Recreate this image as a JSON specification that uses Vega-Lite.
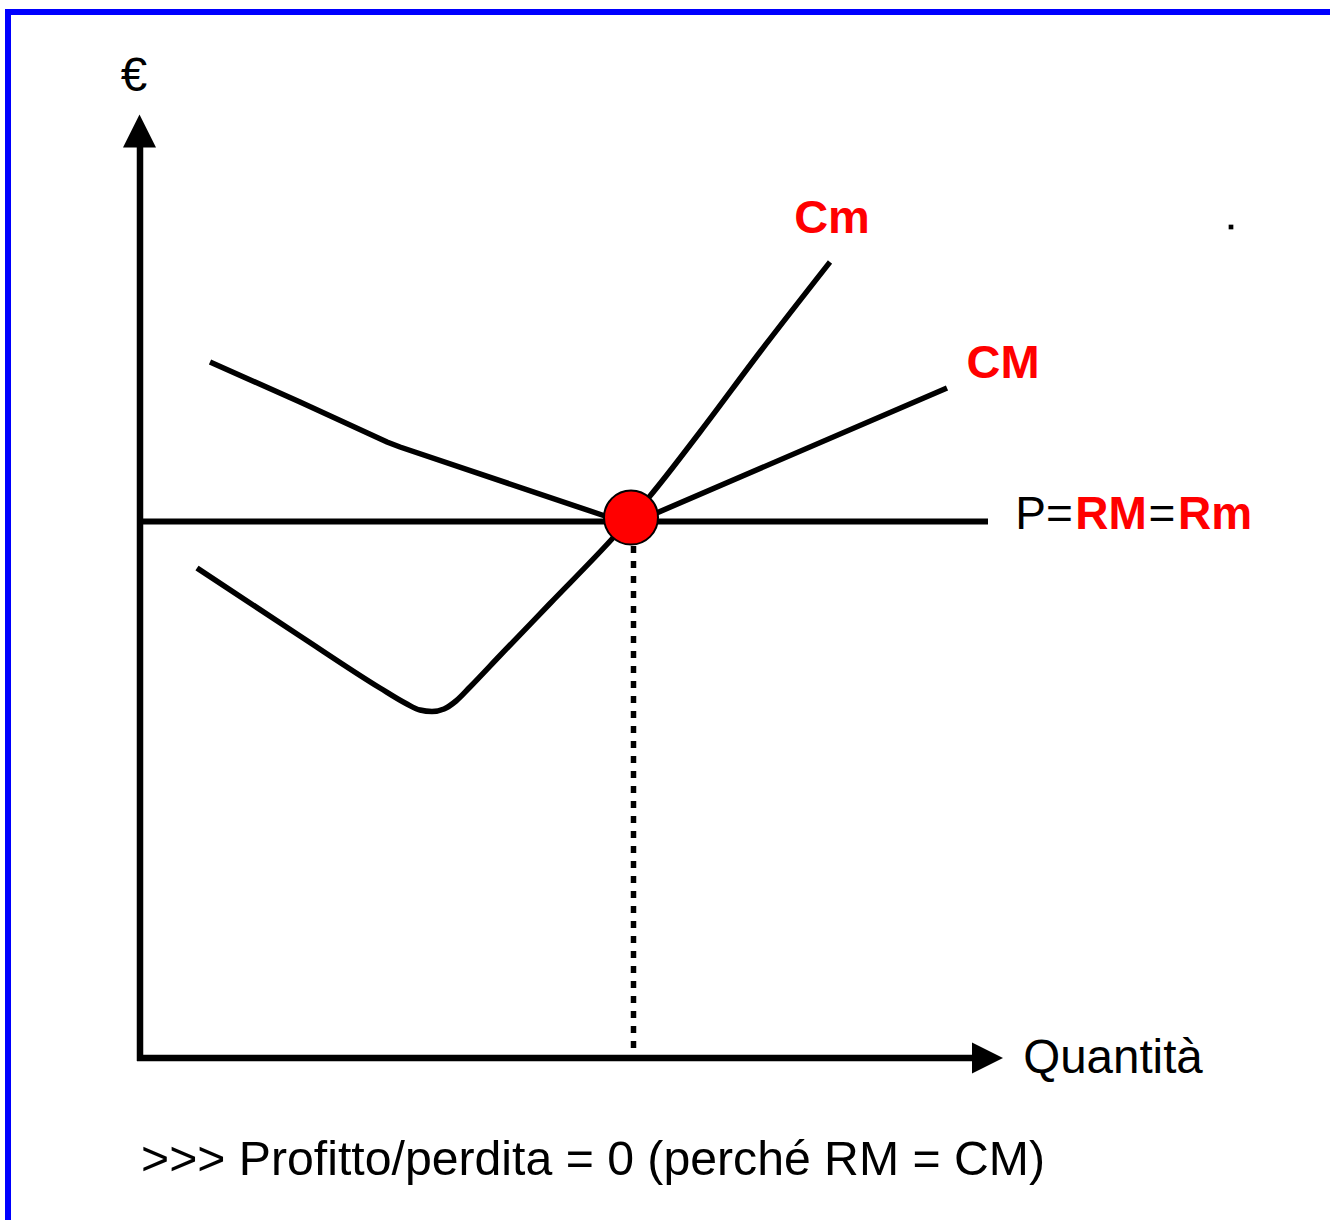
{
  "$schema": "https://vega.github.io/schema/vega-lite/v6.json",
  "width": 1330,
  "height": 1220,
  "padding": 0,
  "autosize": {"type": "none"},
  "background": "white",
  "config": {"view": {"stroke": null}},
  "encoding": {
    "x": {"field": "q", "type": "quantitative", "scale": {"domain": [-1.4, 11.9], "nice": false, "zero": false}, "axis": null},
    "y": {"field": "e", "type": "quantitative", "scale": {"domain": [-1.62, 10.58], "nice": false, "zero": false}, "axis": null}
  },
  "layer": [
    {
      "data": {"values": [
        {"q": -1.35, "q2": 11.95, "e": 10.46, "e2": 10.46},
        {"q": -1.32, "q2": -1.32, "e": 10.49, "e2": -1.65}
      ]},
      "mark": {"type": "rule", "color": "#0000ff", "strokeWidth": 6},
      "encoding": {"x2": {"field": "q2"}, "y2": {"field": "e2"}}
    },
    {
      "data": {"values": [
        {"q": 0, "q2": 0, "e": -0.03, "e2": 9.13},
        {"q": -0.03, "q2": 8.4, "e": 0, "e2": 0}
      ]},
      "mark": {"type": "rule", "color": "black", "strokeWidth": 6.5},
      "encoding": {"x2": {"field": "q2"}, "y2": {"field": "e2"}}
    },
    {
      "data": {"values": [
        {"q": 0, "q2": 8.48, "e": 5.365, "e2": 5.365}
      ]},
      "mark": {"type": "rule", "color": "black", "strokeWidth": 6},
      "encoding": {"x2": {"field": "q2"}, "y2": {"field": "e2"}}
    },
    {
      "data": {"values": [
        {"q": 4.935, "q2": 4.935, "e": 5.12, "e2": 0.08}
      ]},
      "mark": {"type": "rule", "color": "black", "strokeWidth": 5.5, "strokeDash": [7, 8]},
      "encoding": {"x2": {"field": "q2"}, "y2": {"field": "e2"}}
    },
    {
      "data": {"values": [
        {"q": 0.70, "e": 6.96},
        {"q": 1.60, "e": 6.56},
        {"q": 2.47, "e": 6.16},
        {"q": 2.60, "e": 6.11},
        {"q": 4.65, "e": 5.42},
        {"q": 4.91, "e": 5.34},
        {"q": 8.07, "e": 6.70}
      ]},
      "mark": {"type": "line", "color": "black", "strokeWidth": 5.5, "interpolate": "linear"}
    },
    {
      "data": {"values": [
        {"q": 0.57, "e": 4.90},
        {"q": 1.60, "e": 4.22},
        {"q": 2.40, "e": 3.70},
        {"q": 2.66, "e": 3.545},
        {"q": 2.80, "e": 3.48},
        {"q": 2.92, "e": 3.465},
        {"q": 3.04, "e": 3.49},
        {"q": 3.16, "e": 3.57},
        {"q": 3.30, "e": 3.71},
        {"q": 3.60, "e": 4.025},
        {"q": 4.10, "e": 4.545},
        {"q": 4.72, "e": 5.19},
        {"q": 5.10, "e": 5.62},
        {"q": 5.60, "e": 6.26},
        {"q": 6.20, "e": 7.06},
        {"q": 6.90, "e": 7.96}
      ]},
      "mark": {"type": "line", "color": "black", "strokeWidth": 5.5, "interpolate": "monotone"}
    },
    {
      "data": {"values": [{"q": -0.005, "e": 9.27}]},
      "mark": {"type": "point", "shape": "M0,-1L1,1L-1,1Z", "filled": true, "color": "black", "opacity": 1, "size": 1089}
    },
    {
      "data": {"values": [{"q": 8.475, "e": 0}]},
      "mark": {"type": "point", "shape": "M1,0L-1,1L-1,-1Z", "filled": true, "color": "black", "opacity": 1, "size": 961}
    },
    {
      "data": {"values": [{"q": 4.91, "e": 5.405}]},
      "mark": {"type": "point", "shape": "circle", "filled": true, "fill": "#ff0000", "stroke": "black", "strokeWidth": 2, "opacity": 1, "size": 2916}
    },
    {
      "data": {"values": [{"q": 10.91, "e": 8.31}]},
      "mark": {"type": "square", "filled": true, "color": "black", "opacity": 1, "size": 22}
    },
    {
      "data": {"values": [
        {"q": -0.06, "e": 9.67, "t": "€"},
        {"q": 9.73, "e": -0.15, "t": "Quantità"}
      ]},
      "mark": {"type": "text", "font": "Liberation Sans", "fontSize": 47.5, "color": "black", "align": "center", "baseline": "alphabetic"},
      "encoding": {"text": {"field": "t"}}
    },
    {
      "data": {"values": [
        {"q": 4.53, "e": -1.17, "t": ">>> Profitto/perdita = 0 (perché RM = CM)"}
      ]},
      "mark": {"type": "text", "font": "Liberation Sans", "fontSize": 48.2, "color": "black", "align": "center", "baseline": "alphabetic"},
      "encoding": {"text": {"field": "t"}}
    },
    {
      "data": {"values": [
        {"q": 9.04, "e": 5.29, "t": "P="},
        {"q": 10.22, "e": 5.29, "t": "="}
      ]},
      "mark": {"type": "text", "font": "Liberation Sans", "fontSize": 46, "color": "black", "align": "center", "baseline": "alphabetic"},
      "encoding": {"text": {"field": "t"}}
    },
    {
      "data": {"values": [
        {"q": 9.71, "e": 5.29, "t": "RM"},
        {"q": 10.75, "e": 5.29, "t": "Rm"}
      ]},
      "mark": {"type": "text", "font": "Liberation Sans", "fontSize": 46, "fontWeight": "bold", "color": "#ff0000", "align": "center", "baseline": "alphabetic"},
      "encoding": {"text": {"field": "t"}}
    },
    {
      "data": {"values": [
        {"q": 6.92, "e": 8.25, "t": "Cm"},
        {"q": 8.63, "e": 6.80, "t": "CM"}
      ]},
      "mark": {"type": "text", "font": "Liberation Sans", "fontSize": 47, "fontWeight": "bold", "color": "#ff0000", "align": "center", "baseline": "alphabetic"},
      "encoding": {"text": {"field": "t"}}
    }
  ]
}
